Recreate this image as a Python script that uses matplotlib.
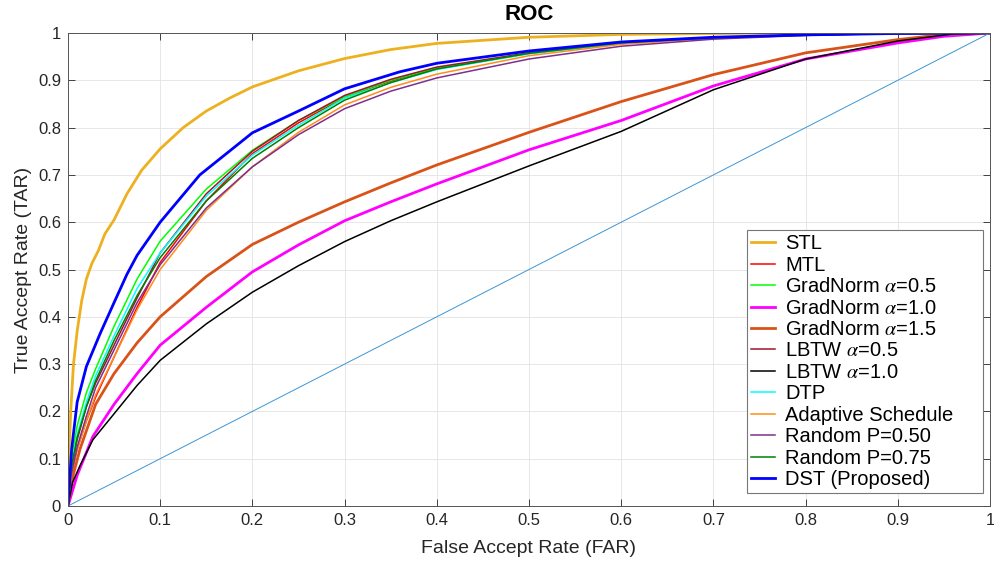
import numpy as np
import matplotlib
matplotlib.use('Agg')
import matplotlib.pyplot as plt

plt.rcParams['font.family'] = ['Liberation Sans', 'DejaVu Sans']
plt.rcParams['mathtext.fontset'] = 'stix'

# Значения кривых (FAR, TAR)
stl_x = [0, 0.001, 0.003, 0.006, 0.01, 0.015, 0.02, 0.026, 0.033, 0.04, 0.05, 0.064, 0.08, 0.1,
         0.125, 0.15, 0.175, 0.2, 0.25, 0.3, 0.35, 0.4, 0.5, 0.6, 0.7, 0.8, 1.0]
stl_y = [0, 0.1, 0.2, 0.3, 0.37, 0.435, 0.48, 0.513, 0.54, 0.575, 0.605, 0.66, 0.71, 0.755,
         0.8, 0.835, 0.862, 0.886, 0.92, 0.946, 0.965, 0.978, 0.991, 0.997, 0.999, 1.0, 1.0]

dst_x = [0, 0.002, 0.004, 0.01, 0.02, 0.035, 0.05, 0.064, 0.075, 0.1, 0.143, 0.2, 0.25, 0.3,
         0.36, 0.4, 0.5, 0.6, 0.7, 0.8, 0.9, 1.0]
dst_y = [0, 0.06, 0.12, 0.22, 0.295, 0.365, 0.43, 0.49, 0.53, 0.6, 0.7, 0.789, 0.835, 0.882,
         0.918, 0.936, 0.962, 0.981, 0.991, 0.996, 0.999, 1.0]

# Общая сетка FAR для группы близких кривых
mid_x = [0, 0.003, 0.01, 0.02, 0.03, 0.05, 0.075, 0.1, 0.15, 0.2, 0.25, 0.3, 0.35, 0.4,
         0.5, 0.6, 0.7, 0.8, 0.9, 1.0]
gn05_y = [0, 0.09, 0.17, 0.24, 0.29, 0.38, 0.48, 0.56, 0.67, 0.752, 0.815, 0.865, 0.9, 0.926,
          0.958, 0.979, 0.99, 0.996, 0.999, 1.0]
lbtw05_y = [0, 0.07, 0.14, 0.21, 0.26, 0.34, 0.44, 0.535, 0.66, 0.75, 0.815, 0.868, 0.902, 0.928,
            0.958, 0.979, 0.99, 0.996, 0.999, 1.0]
mtl_y = [0, 0.06, 0.12, 0.18, 0.23, 0.315, 0.42, 0.515, 0.645, 0.745, 0.81, 0.864, 0.898, 0.925,
         0.957, 0.979, 0.99, 0.996, 0.999, 1.0]
dtp_y = [0, 0.08, 0.15, 0.22, 0.275, 0.36, 0.46, 0.535, 0.655, 0.742, 0.805, 0.862, 0.895, 0.923,
         0.956, 0.978, 0.99, 0.996, 0.999, 1.0]
r075_y = [0, 0.075, 0.145, 0.21, 0.265, 0.35, 0.445, 0.525, 0.645, 0.735, 0.8, 0.858, 0.895, 0.924,
          0.957, 0.979, 0.99, 0.996, 0.999, 1.0]
r050_y = [0, 0.06, 0.125, 0.19, 0.25, 0.33, 0.43, 0.51, 0.63, 0.717, 0.785, 0.84, 0.877, 0.905,
          0.945, 0.972, 0.987, 0.995, 0.999, 1.0]
adapt_y = [0, 0.06, 0.12, 0.18, 0.235, 0.315, 0.415, 0.5, 0.625, 0.717, 0.79, 0.848, 0.885, 0.913,
           0.952, 0.976, 0.989, 0.995, 0.999, 1.0]

gn15_x = [0, 0.005, 0.013, 0.03, 0.05, 0.075, 0.1, 0.15, 0.2, 0.25, 0.3, 0.35, 0.4, 0.5, 0.6,
          0.7, 0.8, 0.9, 0.95, 1.0]
gn15_y = [0, 0.06, 0.12, 0.215, 0.28, 0.345, 0.4, 0.485, 0.553, 0.6, 0.643, 0.683, 0.721, 0.79,
          0.855, 0.912, 0.958, 0.986, 0.997, 1.0]

gn10_x = [0, 0.01, 0.027, 0.05, 0.075, 0.1, 0.15, 0.2, 0.25, 0.3, 0.35, 0.4, 0.5, 0.6, 0.7,
          0.8, 0.9, 0.95, 1.0]
gn10_y = [0, 0.065, 0.147, 0.215, 0.28, 0.34, 0.42, 0.495, 0.552, 0.603, 0.643, 0.681, 0.753,
          0.815, 0.888, 0.945, 0.979, 0.993, 1.0]

lbtw10_x = [0, 0.005, 0.013, 0.027, 0.05, 0.075, 0.1, 0.15, 0.2, 0.25, 0.3, 0.35, 0.4, 0.5, 0.6,
            0.7, 0.8, 0.9, 0.96, 1.0]
lbtw10_y = [0, 0.05, 0.085, 0.14, 0.195, 0.255, 0.308, 0.385, 0.452, 0.508, 0.559, 0.603, 0.643,
            0.719, 0.792, 0.88, 0.945, 0.983, 0.998, 1.0]

fig = plt.figure(figsize=(9.95, 5.65), dpi=100)
ax = fig.add_axes([0.0683, 0.1044, 0.9267, 0.8372])

ax.plot(stl_x, stl_y, color='#EDB120', lw=2.0, label='STL')
ax.plot(mid_x, mtl_y, color='#FF0000', lw=1.1, label='MTL')
ax.plot(mid_x, gn05_y, color='#00FF00', lw=1.1, label=r'GradNorm $\alpha$=0.5')
ax.plot(gn10_x, gn10_y, color='#FF00FF', lw=2.0, label=r'GradNorm $\alpha$=1.0')
ax.plot(gn15_x, gn15_y, color='#D95319', lw=2.0, label=r'GradNorm $\alpha$=1.5')
ax.plot(mid_x, lbtw05_y, color='#A2142F', lw=1.1, label=r'LBTW $\alpha$=0.5')
ax.plot(lbtw10_x, lbtw10_y, color='#000000', lw=1.1, label=r'LBTW $\alpha$=1.0')
ax.plot(mid_x, dtp_y, color='#00FFFF', lw=1.1, label='DTP')
ax.plot(mid_x, adapt_y, color='#FF8C1A', lw=1.1, label='Adaptive Schedule')
ax.plot(mid_x, r050_y, color='#7E2F8E', lw=1.1, label='Random P=0.50')
ax.plot(mid_x, r075_y, color='#008000', lw=1.1, label='Random P=0.75')
ax.plot(dst_x, dst_y, color='#0000FF', lw=2.0, label='DST (Proposed)')
# диагональ
ax.plot([0, 1], [0, 1], color='#3D95D6', lw=0.7)

ticks = np.arange(0, 1.01, 0.1)
tick_labels = ['0', '0.1', '0.2', '0.3', '0.4', '0.5', '0.6', '0.7', '0.8', '0.9', '1']
ax.set_xlim(0, 1)
ax.set_ylim(0, 1)
ax.set_xticks(ticks)
ax.set_yticks(ticks)
ax.set_xticklabels(tick_labels)
ax.set_yticklabels(tick_labels)
ax.tick_params(direction='in', top=True, right=True, length=5, width=0.6,
               labelsize=12, colors='#262626', pad=5)
for s in ax.spines.values():
    s.set_color('#555555')
    s.set_linewidth(0.7)
ax.grid(True, color='#E3E3E3', lw=0.6)
ax.set_axisbelow(True)

ax.set_xlabel('False Accept Rate (FAR)', fontsize=14, color='#262626', labelpad=9)
ax.set_ylabel('True Accept Rate (TAR)', fontsize=14, color='#262626', labelpad=4)
ax.set_title('ROC', fontsize=16, fontweight='bold', color='#000000', pad=9)

# рамка легенды растянута до ширины, как в MATLAB
leg = ax.legend(loc='lower left', bbox_to_anchor=(0.7364, 0.0275, 0.256, 0.5),
                mode='expand', fontsize=14.5,
                frameon=True, fancybox=False, edgecolor='#777777', framealpha=1,
                handlelength=1.2, handletextpad=0.5, labelspacing=0.12,
                borderpad=0.2, borderaxespad=0)
leg.get_frame().set_linewidth(0.8)

plt.savefig('out.png', dpi=100)
